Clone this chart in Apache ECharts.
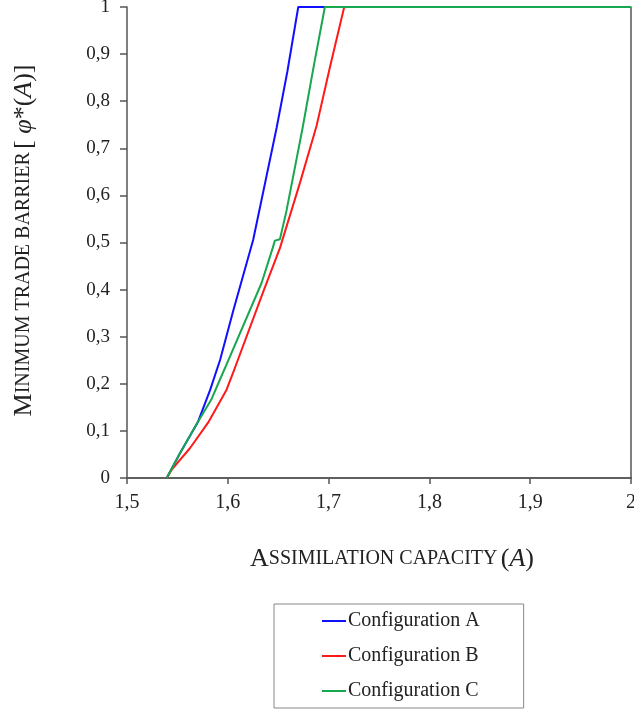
<!DOCTYPE html>
<html>
<head>
<meta charset="utf-8">
<script src="https://cdn.jsdelivr.net/npm/echarts@6/dist/echarts.min.js"></script>
<style>html,body{margin:0;padding:0;background:#fff;}#c{width:634px;height:711px;}</style>
</head>
<body>
<div id="c"></div>
<script>
const seriesNames = ['Configuration A', 'Configuration B', 'Configuration C'];
const xTicks = ['1,5', '1,6', '1,7', '1,8', '1,9', '2'];
const yTicks = ['0', '0,1', '0,2', '0,3', '0,4', '0,5', '0,6', '0,7', '0,8', '0,9', '1'];

const aX = [1.5394, 1.5527, 1.5706, 1.5825, 1.5924, 1.6054, 1.6252, 1.6484, 1.659, 1.6699, 2.0];
const aY = [0, 0.053, 0.12, 0.187, 0.251, 0.355, 0.506, 0.743, 0.862, 1, 1];

const bX = [1.5394, 1.5444, 1.5626, 1.5806, 1.5988, 1.607, 1.6351, 1.6517, 1.6715, 1.6881, 1.7013, 1.7155, 2.0];
const bY = [0, 0.0176, 0.0637, 0.118, 0.1875, 0.2335, 0.395, 0.488, 0.626, 0.748, 0.872, 1, 1];

const cX = [1.5394, 1.5527, 1.5706, 1.5835, 1.5972, 1.6335, 1.6445, 1.6467, 1.6517, 1.658, 1.6742, 1.6853, 1.6963, 2.0];
const cY = [0, 0.053, 0.12, 0.166, 0.2335, 0.414, 0.488, 0.504, 0.507, 0.565, 0.743, 0.875, 1, 1];

const colors = ['#1010ff', '#ff1a1a', '#17a84f'];
const zip = (xs, ys) => xs.map((x, i) => [x, ys[i]]);

const serif = '"Liberation Serif", "DejaVu Serif", serif';
const axisColor = '#555';
const txt = '#222';
const rich = {
  big: {fontFamily: serif, fontSize: 26, color: txt},
  sc: {fontFamily: serif, fontSize: 20, color: txt},
  n: {fontFamily: serif, fontSize: 26, color: txt},
  it: {fontFamily: serif, fontSize: 26, fontStyle: 'italic', color: txt}
};

const chart = echarts.init(document.getElementById('c'), null, {renderer: 'canvas'});
chart.setOption({
  backgroundColor: '#fff',
  animation: false,
  grid: {left: 127, right: 3, top: 7, bottom: 233, containLabel: false, outerBoundsMode: 'none'},
  legend: {
    left: 274, top: 604,
    orient: 'vertical',
    data: seriesNames,
    icon: 'rect',
    borderColor: '#888', borderWidth: 1,
    padding: [7, 44, 7, 48],
    itemGap: 15,
    itemWidth: 24, itemHeight: 2,
    textStyle: {fontFamily: serif, fontSize: 20, color: txt, padding: [0, 0, 0, -3], lineHeight: 20}
  },
  xAxis: [{
    type: 'value', min: 1.5, max: 2.0, interval: 0.1,
    axisLine: {lineStyle: {color: axisColor, width: 1.5}},
    axisTick: {show: true, length: 6, lineStyle: {color: axisColor, width: 1.5}},
    splitLine: {show: false},
    axisLabel: {margin: 15, fontFamily: serif, fontSize: 20, color: txt,
      formatter: (v) => xTicks[Math.round((v - 1.5) * 10)]},
    name: '{big|A}{sc|SSIMILATION CAPACITY} {n|(}{it|A}{n|)}',
    nameLocation: 'middle', nameGap: 68,
    nameTextStyle: {padding: [0, 0, 0, 26], rich: rich}
  }, {
    type: 'value', position: 'top', min: 1.5, max: 2.0,
    axisLine: {show: true, lineStyle: {color: axisColor, width: 1.5}},
    axisTick: {show: false}, axisLabel: {show: false}, splitLine: {show: false}
  }],
  yAxis: [{
    type: 'value', min: 0, max: 1, interval: 0.1,
    axisLine: {show: true, lineStyle: {color: axisColor, width: 1.5}},
    axisTick: {show: true, length: 7, lineStyle: {color: axisColor, width: 1.5}},
    splitLine: {show: false},
    axisLabel: {margin: 17, fontFamily: serif, fontSize: 19, color: txt,
      formatter: (v) => yTicks[Math.round(v * 10)]},
    name: '{big|M}{sc|INIMUM TRADE BARRIER} {n|[ }{it|φ}{n|*(}{it|A}{n|)]}',
    nameLocation: 'middle', nameGap: 90,
    nameTextStyle: {padding: [0, 0, 0, 4], rich: rich}
  }, {
    type: 'value', position: 'right', min: 0, max: 1,
    axisLine: {show: true, lineStyle: {color: axisColor, width: 1.5}},
    axisTick: {show: false}, axisLabel: {show: false}, splitLine: {show: false}
  }],
  series: [
    {name: seriesNames[0], type: 'line', data: zip(aX, aY), showSymbol: false, symbol: 'none',
     lineStyle: {color: colors[0], width: 2}, itemStyle: {color: colors[0]}, z: 3},
    {name: seriesNames[1], type: 'line', data: zip(bX, bY), showSymbol: false, symbol: 'none',
     lineStyle: {color: colors[1], width: 2}, itemStyle: {color: colors[1]}, z: 4},
    {name: seriesNames[2], type: 'line', data: zip(cX, cY), showSymbol: false, symbol: 'none',
     lineStyle: {color: colors[2], width: 2}, itemStyle: {color: colors[2]}, z: 5}
  ]
});
</script>
</body>
</html>
